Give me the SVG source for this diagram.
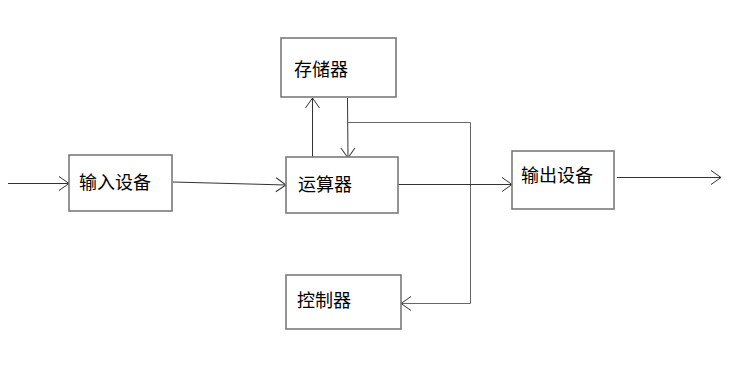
<svg xmlns="http://www.w3.org/2000/svg" width="733" height="376" viewBox="0 0 733 376">
<style>
.box{fill:#fff;stroke:#7a7a7a;stroke-width:1.6}
.lbl{font-family:"Noto Sans CJK SC","DejaVu Sans",sans-serif;font-size:18px;fill:#000}
.ln{fill:none;stroke:#333;stroke-width:1}
.ln2{fill:none;stroke:#666;stroke-width:1}
</style>
<defs>
<marker id="ar" markerUnits="userSpaceOnUse" markerWidth="24" markerHeight="24" refX="12" refY="12" orient="auto" overflow="visible">
<path d="M2,5 L12,12 L2,19" fill="none" stroke="#333" stroke-width="1"/>
</marker>
</defs>
<rect width="733" height="376" fill="#fff"/>
<g id="connectors">
<line class="ln" x1="8" y1="183.5" x2="69" y2="183.5" marker-end="url(#ar)"/>
<line class="ln" x1="173" y1="182" x2="286" y2="185" marker-end="url(#ar)"/>
<line class="ln" x1="312.5" y1="157" x2="312.5" y2="98" marker-end="url(#ar)"/>
<line class="ln" x1="347.5" y1="98" x2="348" y2="158" marker-end="url(#ar)"/>
<polyline class="ln2" points="347.5,122.5 470.5,122.5 470.5,303.5 401,303.5" marker-end="url(#ar)"/>
<line class="ln" x1="398" y1="184.5" x2="512" y2="184.5" marker-end="url(#ar)"/>
<line class="ln" x1="617" y1="177.5" x2="721" y2="177.5" marker-end="url(#ar)"/>
</g>
<g id="node-storage"><rect class="box" x="281" y="38" width="115" height="59"/><text class="lbl" x="294" y="76">存储器</text></g>
<g id="node-alu"><rect class="box" x="286" y="157" width="112" height="56"/><text class="lbl" x="298" y="191">运算器</text></g>
<g id="node-input"><rect class="box" x="69" y="155" width="103" height="56"/><text class="lbl" x="79" y="189">输入设备</text></g>
<g id="node-output"><rect class="box" x="512" y="151" width="102" height="58"/><text class="lbl" x="521" y="182">输出设备</text></g>
<g id="node-control"><rect class="box" x="286" y="275" width="115" height="54"/><text class="lbl" x="297" y="307">控制器</text></g>
</svg>
